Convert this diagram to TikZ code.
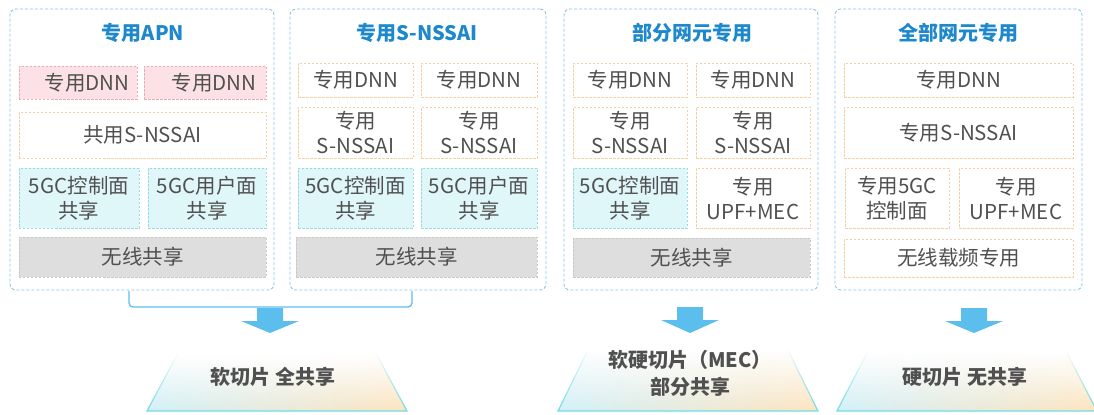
\documentclass[tikz,border=0pt]{standalone}
\usepackage{fontspec}
\setmainfont{Noto Sans CJK SC}
\usepackage{tikz}
\usetikzlibrary{fadings}
\definecolor{SliceBlue}{RGB}{30,136,204}
\definecolor{SliceFrame}{RGB}{140,196,226}
\definecolor{SliceText}{RGB}{80,80,80}
\definecolor{SlicePink}{RGB}{252,226,230}
\definecolor{SlicePinkLine}{RGB}{240,170,180}
\definecolor{SliceOrangeLine}{RGB}{244,208,164}
\definecolor{SliceCyan}{RGB}{224,247,250}
\definecolor{SliceCyanLine}{RGB}{150,218,232}
\definecolor{SliceGray}{RGB}{222,222,222}
\definecolor{SliceGrayLine}{RGB}{200,200,200}
\definecolor{SliceArrow}{RGB}{92,190,236}
\definecolor{SliceTrapL}{RGB}{210,240,248}
\definecolor{SliceTrapR}{RGB}{253,228,190}
\definecolor{SliceTrapLine}{RGB}{110,220,228}

\begin{document}
\begin{tikzpicture}[x=1bp,y=-1bp,font=\fontsize{20.5bp}{25bp}\selectfont,grp/.style n args={4}{draw=#1,fill=#2,minimum width=#3bp,minimum height=#4bp,dash pattern=on 2.5bp off 1.5bp,line width=0.8bp,rectangle,inner sep=0pt,align=center,text=SliceText},pnl/.style n args={2}{draw=SliceFrame,fill=white,minimum width=#1bp,minimum height=#2bp,rounded corners=6bp,dash pattern=on 3bp off 2bp,line width=0.9bp,rectangle},ttl/.style={text=SliceBlue,font=\fontsize{20bp}{25bp}\selectfont\bfseries},bt/.style={text=SliceText,align=center,font=\fontsize{20bp}{27bp}\selectfont\bfseries},brk/.style={draw=SliceArrow,line width=1.3bp,rounded corners=4bp}]
\useasboundingbox (0,0) rectangle (1094,414);
\coordinate (k0) at (129,291);
\coordinate (k1) at (412,291);
\draw[brk] (k0) -- ++(0,16) -| (k1);
\node[pnl={264}{281}](p0) at(142,149.5) {};
\node[pnl={256}{281}](p1) at(418,149.5) {};
\node[pnl={254}{281}](p2) at(691,149.5) {};
\node[pnl={247}{281}](p3) at(958.5,149.5) {};
\foreach \x/\1 [count=\i from 0] in %
{143/专用APN,417/专用S-NSSAI,692/部分网元专用,958/全部网元专用} {
   \node[ttl](h\i) at (\x,33) {\1};
}
   \node[grp={SlicePinkLine}{SlicePink}{118}{33}](n0) at(78,82.5) {\hspace*{18bp}专用DNN};
   \node[grp={SlicePinkLine}{SlicePink}{122}{33}](n1) at(205,82.5) {\hspace*{18bp}专用DNN};
   \node[grp={SliceOrangeLine}{white}{247}{46}](n2) at(142.5,135) {共用S-NSSAI};
   \node[grp={SliceCyanLine}{SliceCyan}{120}{60}](n3) at(79,198) {5GC控制面\\共享};
   \node[grp={SliceCyanLine}{SliceCyan}{118}{60}](n4) at(207,198) {5GC用户面\\共享};
   \node[grp={SliceGrayLine}{SliceGray}{247}{40}](n5) at(142.5,257) {无线共享};
   \node[grp={SliceOrangeLine}{white}{115}{34}](n6) at(355.5,80) {专用DNN};
   \node[grp={SliceOrangeLine}{white}{116}{34}](n7) at(479,80) {专用DNN};
   \node[grp={SliceOrangeLine}{white}{115}{51}](n8) at(355.5,132.5) {专用\\S-NSSAI};
   \node[grp={SliceOrangeLine}{white}{116}{51}](n9) at(479,132.5) {专用\\S-NSSAI};
   \node[grp={SliceCyanLine}{SliceCyan}{115}{60}](n10) at(355.5,198) {5GC控制面\\共享};
   \node[grp={SliceCyanLine}{SliceCyan}{116}{60}](n11) at(479,198) {5GC用户面\\共享};
   \node[grp={SliceGrayLine}{SliceGray}{241}{40}](n12) at(416.5,257) {无线共享};
   \node[grp={SliceOrangeLine}{white}{114}{34}](n13) at(630,80) {专用DNN};
   \node[grp={SliceOrangeLine}{white}{114}{34}](n14) at(753,80) {专用DNN};
   \node[grp={SliceOrangeLine}{white}{114}{51}](n15) at(630,132.5) {专用\\S-NSSAI};
   \node[grp={SliceOrangeLine}{white}{114}{51}](n16) at(753,132.5) {专用\\S-NSSAI};
   \node[grp={SliceCyanLine}{SliceCyan}{114}{60}](n17) at(630,198) {5GC控制面\\共享};
   \node[grp={SliceOrangeLine}{white}{114}{60}](n18) at(753,198) {专用\\UPF+MEC};
   \node[grp={SliceGrayLine}{SliceGray}{237}{39}](n19) at(691.5,257.5) {无线共享};
   \node[grp={SliceOrangeLine}{white}{229}{34}](n20) at(958.5,80) {专用DNN};
   \node[grp={SliceOrangeLine}{white}{229}{51}](n21) at(958.5,132.5) {专用S-NSSAI};
   \node[grp={SliceOrangeLine}{white}{104}{60}](n22) at(897,198) {专用5GC\\控制面};
   \node[grp={SliceOrangeLine}{white}{114}{60}](n23) at(1016,198) {专用\\UPF+MEC};
   \node[grp={SliceOrangeLine}{white}{229}{38}](n24) at(958.5,258) {无线载频专用};
\foreach \x/\y in {270/308,690/307,974/308} {
   \fill[SliceArrow] (\x-13,\y) -- (\x+13,\y) -- (\x+13,\y+13) -- (\x+29,\y+13) -- (\x,333) -- (\x-29,\y+13) -- (\x-13,\y+13) -- cycle;
}
\foreach \x/\y in {277/355,688/350,967/353} {
   \shade[left color=SliceTrapL,right color=SliceTrapR] (\x-130,411) -- (\x-100,\y) -- (\x+100,\y) -- (\x+130,411) -- cycle;
   \fill[white,path fading=south] (\x-130,411) -- (\x-100,\y) -- (\x+100,\y) -- (\x+130,411) -- cycle;
   \draw[SliceTrapLine,line width=1.2bp,path fading=north] (\x-100,\y) -- (\x-130,411) -- (\x+130,411) -- (\x+100,\y);
}
   \node[bt](t0) at(273,377) {软切片 全共享};
   \node[bt](t1) at(690,373.5) {软硬切片（MEC）\\部分共享};
   \node[bt](t2) at(965,377) {硬切片 无共享};
\end{tikzpicture}
\end{document}
